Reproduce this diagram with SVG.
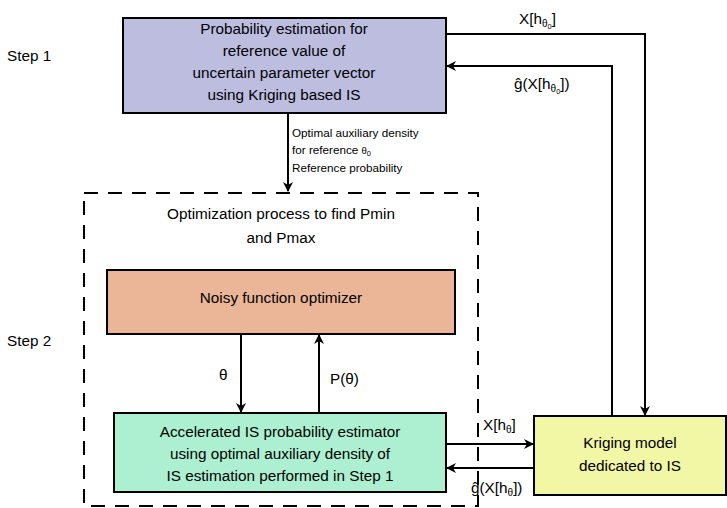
<svg xmlns="http://www.w3.org/2000/svg" width="727" height="508" viewBox="0 0 727 508">
<defs>
<marker id="ah" viewBox="0 0 10 10" refX="9" refY="5" markerWidth="10" markerHeight="10" markerUnits="userSpaceOnUse" orient="auto">
<path d="M0,0 L10,5 L0,10 L3,5 Z" fill="#000"/>
</marker>
<style>
text{font-family:"Liberation Sans",Arial,sans-serif;fill:#000}
.t{font-size:15.3px;text-anchor:middle}
.s{font-size:15.3px}
.sm{font-size:11.7px}
.box{stroke:#000;stroke-width:2}
.arr{stroke:#000;stroke-width:2;fill:none;marker-end:url(#ah)}
.sub{font-size:10px}
.sub2{font-size:7.5px}
</style>
</defs>
<rect width="727" height="508" fill="#fff"/>
<text class="s" x="7" y="61">Step 1</text>
<text class="s" x="7" y="346">Step 2</text>

<g id="dashed-group">
<rect x="84" y="193" width="394" height="313" fill="none" stroke="#000" stroke-width="2" stroke-dasharray="14,10"/>
<text class="t" x="281" y="219">Optimization process to find Pmin</text>
<text class="t" x="281" y="243">and Pmax</text>
</g>

<g id="connectors">
<line class="arr" x1="288" y1="113" x2="288" y2="191"/>
<text class="sm" x="292" y="137">Optimal auxiliary density</text>
<text class="sm" x="292" y="154">for reference <tspan font-size="9.5">θ</tspan><tspan font-size="7.5" dy="2">0</tspan></text>
<text class="sm" x="292" y="172">Reference probability</text>

<polyline class="arr" points="446,34 645,34 645,415"/>
<polyline class="arr" points="612,415 612,66 447,66"/>
<text class="s" x="519" y="24">X[h<tspan class="sub" dy="3">θ</tspan><tspan class="sub2" dy="2">0</tspan><tspan dy="-5">]</tspan></text>
<text class="s" x="514" y="89">ĝ(X[h<tspan class="sub" dy="3">θ</tspan><tspan class="sub2" dy="2">0</tspan><tspan dy="-5">])</tspan></text>

<line class="arr" x1="241" y1="334" x2="241" y2="412"/>
<line class="arr" x1="319" y1="412" x2="319" y2="335"/>
<text class="s" x="219" y="380">θ</text>
<text class="s" x="330" y="384">P(θ)</text>

<line class="arr" x1="446" y1="444" x2="533" y2="444"/>
<line class="arr" x1="534" y1="468" x2="447" y2="468"/>
<text class="s" x="483" y="430">X[h<tspan class="sub" dy="3">θ</tspan><tspan dy="-3">]</tspan></text>
<text class="s" x="471" y="493">ĝ(X[h<tspan class="sub" dy="3">θ</tspan><tspan dy="-3">])</tspan></text>
</g>

<g id="node-ref">
<rect class="box" x="123" y="18" width="323" height="95" fill="#bdbde0"/>
<text class="t" x="284" y="34">Probability estimation for</text>
<text class="t" x="284" y="56">reference value of</text>
<text class="t" x="284" y="78">uncertain parameter vector</text>
<text class="t" x="284" y="100">using Kriging based IS</text>
</g>

<g id="node-optimizer">
<rect class="box" x="107" y="270" width="348" height="64" fill="#ebb597"/>
<text class="t" x="281" y="303">Noisy function optimizer</text>
</g>

<g id="node-estimator">
<rect class="box" x="114" y="413" width="332" height="79" fill="#adf0d1"/>
<text class="t" x="280" y="437">Accelerated IS probability estimator</text>
<text class="t" x="280" y="459">using optimal auxiliary density of</text>
<text class="t" x="280" y="481">IS estimation performed in Step 1</text>
</g>

<g id="node-kriging">
<rect class="box" x="534" y="416" width="192" height="79" fill="#f2f7a6"/>
<text class="t" x="630" y="448">Kriging model</text>
<text class="t" x="630" y="471">dedicated to IS</text>
</g>
</svg>
